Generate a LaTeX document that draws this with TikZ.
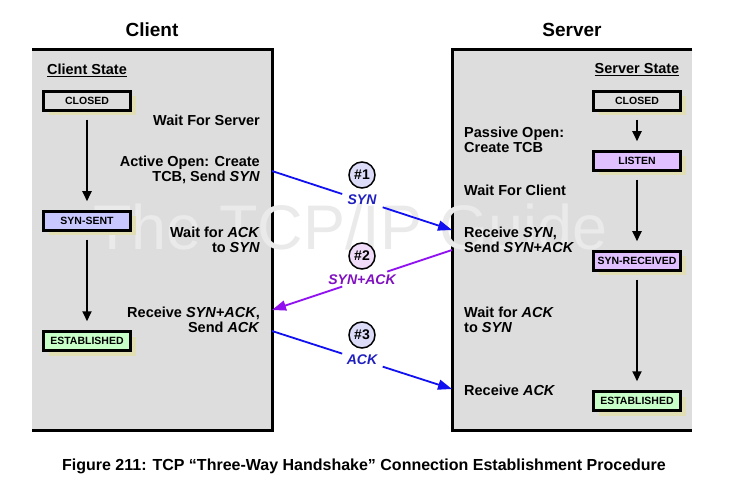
\documentclass[tikz,border=0pt]{standalone}
\usepackage{fontspec}
\setmainfont{Liberation Sans}
\usetikzlibrary{arrows.meta,shadows,calc}
\definecolor{boxgray}{HTML}{DDDDDD}
\definecolor{shadowc}{HTML}{E2DEB4}
\definecolor{synsent}{HTML}{C8C8FF}
\definecolor{listenc}{HTML}{E0C0FF}
\definecolor{estab}{HTML}{C8FFC8}
\definecolor{wmark}{HTML}{EAEAEA}
\definecolor{bluearr}{HTML}{1010F0}
\definecolor{bluetxt}{HTML}{2020C0}
\definecolor{purparr}{HTML}{9010F0}
\definecolor{purptxt}{HTML}{8010C0}
\definecolor{circa}{HTML}{DCDCF8}
\definecolor{circb}{HTML}{F0DCF8}
\begin{document}
\begin{tikzpicture}[x=1pt,y=-1pt,
  header/.style={font=\fontsize{19}{22}\selectfont\bfseries},
  lbl/.style={font=\fontsize{14.5}{15.5}\selectfont\bfseries, inner sep=0pt},
  statebox/.style={draw, line width=2.5pt, minimum width=87pt, minimum height=19pt, inner sep=0pt,
     font=\fontsize{10.5}{12}\selectfont\bfseries,
     drop shadow={shadow xshift=5pt, shadow yshift=-5pt, fill=shadowc, opacity=1}},
  statearr/.style={line width=1.8pt, -{Triangle[length=10pt,width=9pt]}},
  numcirc/.style={circle, draw, line width=1.5pt, minimum size=26pt, inner sep=0pt,
     font=\fontsize{14}{16}\selectfont\bfseries},
  msg/.style={font=\fontsize{14}{16}\selectfont\bfseries\itshape},
  conn/.style={line width=1.8pt},
  conntip/.style={line width=1.8pt, -{Triangle[length=14pt,width=10pt]}},
]
\useasboundingbox (0,0) rectangle (744,486);
\fill[white] (0,0) rectangle (744,486);
% panels
\node[fill=boxgray, minimum width=240pt, minimum height=380pt, inner sep=0pt, anchor=north west] (cbox) at (32,50) {};
\node[fill=boxgray, minimum width=240pt, minimum height=380pt, inner sep=0pt, anchor=north west] (sbox) at (452,50) {};
\draw[line width=3pt] (cbox.north west) -- (cbox.north east) -- (cbox.south east) -- (cbox.south west);
\draw[line width=3pt] (sbox.north east) -- (sbox.north west) -- (sbox.south west) -- (sbox.south east);
% watermark
\node[anchor=base west, inner sep=0pt, text=wmark, font=\fontsize{63}{70}\selectfont] (wm) at (93,250) {The TCP/IP Guide};
% headers
\node[header] (chead) at (152,30) {Client};
\node[header] (shead) at (572,30) {Server};
\node[lbl] (cstate) at (87,70) {\underline{Client State}};
\node[lbl] (sstate) at (637,70) {\underline{Server State}};
% client states
\node[statebox, fill=boxgray] (cclosed) at (87,101) {CLOSED};
\node[statebox, fill=synsent] (csynsent) at (87,221) {SYN-SENT};
\node[statebox, fill=estab] (cestab) at (87,341) {ESTABLISHED};
\draw[statearr, shorten <=8pt, shorten >=9pt] (cclosed) -- (csynsent);
\draw[statearr, shorten <=8pt, shorten >=9pt] (csynsent) -- (cestab);
% server states
\node[statebox, fill=boxgray] (sclosed) at (637,101) {CLOSED};
\node[statebox, fill=listenc] (slisten) at (637,161) {LISTEN};
\node[statebox, fill=listenc] (ssynrec) at (637,261) {SYN-RECEIVED};
\node[statebox, fill=estab] (sestab) at (637,401) {ESTABLISHED};
\draw[statearr, shorten <=8pt, shorten >=9pt] (sclosed) -- (slisten);
\draw[statearr, shorten <=8pt, shorten >=9pt] (slisten) -- (ssynrec);
\draw[statearr, shorten <=8pt, shorten >=9pt] (ssynrec) -- (sestab);
% client labels
\node[lbl, anchor=east, align=right] (cw1) at (260,120) {Wait For Server};
\node[lbl, anchor=east, align=right] (cw2) at (260,170) {Active Open: Create\\TCB, Send \textit{SYN}};
\node[lbl, anchor=east, align=right] (cw3) at (260,240) {Wait for \textit{ACK}\\to \textit{SYN}};
\node[lbl, anchor=east, align=right] (cw4) at (260,320) {Receive \textit{SYN+ACK},\\Send \textit{ACK}};
% server labels
\node[lbl, anchor=west, align=left] (sw1) at (464,140) {Passive Open:\\Create TCB};
\node[lbl, anchor=west, align=left] (sw2) at (464,190) {Wait For Client};
\node[lbl, anchor=west, align=left] (sw3) at (464,240) {Receive \textit{SYN},\\Send \textit{SYN+ACK}};
\node[lbl, anchor=west, align=left] (sw4) at (464,320) {Wait for \textit{ACK}\\to \textit{SYN}};
\node[lbl, anchor=west, align=left] (sw5) at (464,390) {Receive \textit{ACK}};
% connector end points
\coordinate (a1) at (272,171);
\coordinate (b1) at (452,230);
\coordinate (a2) at (452,250);
\coordinate (b2) at (272,310);
\coordinate (a3) at (272,331);
\coordinate (b3) at (452,389);
% message 1
\draw[conn, bluearr] (a1) -- ($(a1)!0.39!(b1)$);
\draw[conntip, bluearr] ($(a1)!0.615!(b1)$) -- (b1);
\node[numcirc, fill=circa] (n1) at (362,175) {\#1};
\node[msg, text=bluetxt] (m1) at (362,200) {SYN};
% message 2
\draw[conn, purparr] (a2) -- ($(a2)!0.36!(b2)$);
\draw[conntip, purparr] ($(a2)!0.61!(b2)$) -- (b2);
\node[numcirc, fill=circb] (n2) at (362,256) {\#2};
\node[msg, text=purptxt] (m2) at (362,280) {SYN+ACK};
% message 3
\draw[conn, bluearr] (a3) -- ($(a3)!0.39!(b3)$);
\draw[conntip, bluearr] ($(a3)!0.615!(b3)$) -- (b3);
\node[numcirc, fill=circa] (n3) at (362,335) {\#3};
\node[msg, text=bluetxt] (m3) at (362,360) {ACK};
% caption
\node[font=\fontsize{16}{18}\selectfont\bfseries] (cap) at (364,466) {Figure 211: TCP “Three-Way Handshake” Connection Establishment Procedure};
\end{tikzpicture}
\end{document}
